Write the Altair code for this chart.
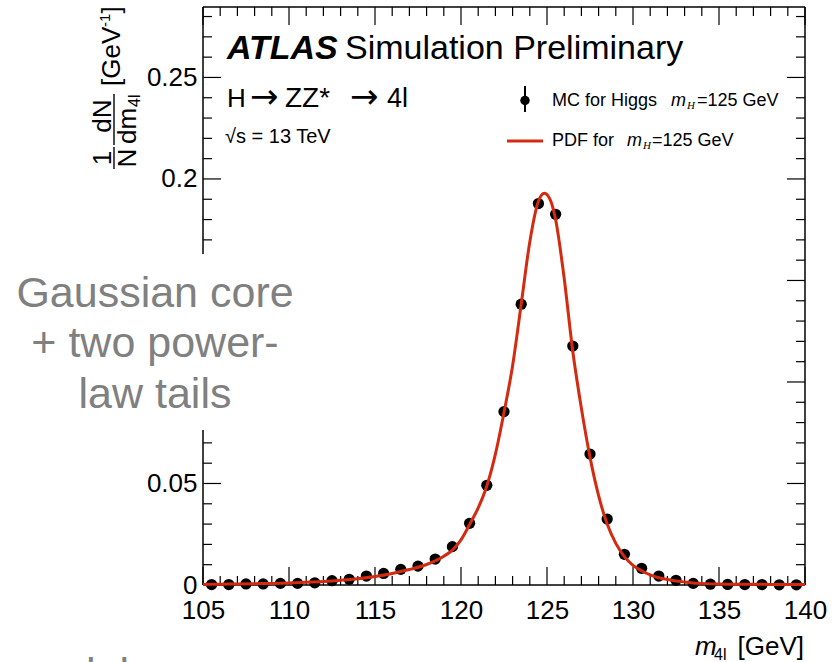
import altair as alt
import pandas as pd

# ---------------- data ----------------
mass_bin_centres = [105.5, 106.5, 107.5, 108.5, 109.5, 110.5, 111.5, 112.5, 113.5, 114.5,
                    115.5, 116.5, 117.5, 118.5, 119.5, 120.5, 121.5, 122.5, 123.5, 124.5,
                    125.5, 126.5, 127.5, 128.5, 129.5, 130.5, 131.5, 132.5, 133.5, 134.5,
                    135.5, 136.5, 137.5, 138.5, 139.5]
mc_density = [0.0002, 0.0002, 0.0005, 0.0005, 0.0008, 0.0008, 0.0011, 0.0021, 0.0028, 0.0044,
              0.0057, 0.0077, 0.0093, 0.0128, 0.0189, 0.0304, 0.0491, 0.0854, 0.1383, 0.1879,
              0.1826, 0.1177, 0.0645, 0.0325, 0.0151, 0.0082, 0.0044, 0.0023, 0.0008, 0.0004,
              0.0003, 0.0002, 0.0002, 0.0001, 0.0001]

pdf_mass = [105.0, 106.0, 107.0, 108.0, 109.0, 110.0, 111.0, 112.0, 113.0, 114.0,
            115.0, 116.0, 117.0, 118.0, 118.5, 119.0, 119.5, 120.0, 120.5, 121.0,
            121.5, 122.0, 122.5, 123.0, 123.5, 124.0, 124.5, 124.85, 125.2, 125.5,
            126.0, 126.5, 127.0, 127.5, 128.0, 128.5, 129.0, 129.5, 130.0, 130.5,
            131.0, 131.5, 132.0, 132.5, 133.0, 133.5, 134.0, 135.0, 136.0, 138.0, 140.0]
pdf_density = [0.0003, 0.0004, 0.0005, 0.0006, 0.0008, 0.0010, 0.0013, 0.0017, 0.0023, 0.0031,
               0.0042, 0.0057, 0.0076, 0.0101, 0.0119, 0.0142, 0.0172, 0.0222, 0.0298, 0.0380,
               0.0488, 0.0645, 0.0850, 0.1080, 0.1383, 0.1690, 0.1890, 0.1930, 0.1895, 0.1800,
               0.1510, 0.1150, 0.0870, 0.0630, 0.0440, 0.0300, 0.0205, 0.0140, 0.0097, 0.0070,
               0.0050, 0.0036, 0.0027, 0.0020, 0.0015, 0.0010, 0.0008, 0.0005, 0.0004, 0.0003,
               0.0002]

x_tick_labels = [105, 110, 115, 120, 125, 130, 135, 140]
x_minor_ticks = [v for v in range(106, 140) if v % 5 != 0]
y_major_ticks = [0.0, 0.05, 0.10, 0.15, 0.20, 0.25]
y_tick_labels = [0.0, 0.05, 0.20, 0.25]
y_minor_ticks = [i / 100 for i in range(1, 29) if i % 5 != 0]

# ---------------- layout / style ----------------
W, H = 602, 578
FONT = "Liberation Sans"
RED = "#d42a10"
GRAY = "#808080"

xs = alt.Scale(domain=[105, 140], nice=False, zero=False)
ys = alt.Scale(domain=[0, 0.2847], nice=False, zero=False)
x_axis = alt.Axis(values=x_tick_labels, ticks=False, domain=False, grid=False,
                  labelFont=FONT, labelFontSize=26, labelColor="black",
                  labelPadding=12, labelFlush=False, labelOverlap=False, title=None)
y_axis = alt.Axis(values=y_tick_labels, format=".2~f", ticks=False, domain=False, grid=False,
                  labelFont=FONT, labelFontSize=26, labelColor="black",
                  labelPadding=6, labelFlush=False, labelOverlap=False, title=None)
X = alt.X("m:Q", scale=xs, axis=x_axis, title=None)
Y = alt.Y("v:Q", scale=ys, axis=y_axis, title=None)

one = pd.DataFrame({"k": [0]})
layers = []

# frame
for enc in [dict(x=alt.value(0), x2=alt.value(W), y=alt.value(0)),
            dict(x=alt.value(0), x2=alt.value(W), y=alt.value(H)),
            dict(y=alt.value(0), y2=alt.value(H), x=alt.value(0)),
            dict(y=alt.value(0), y2=alt.value(H), x=alt.value(W))]:
    layers.append(alt.Chart(one).mark_rule(color="black", strokeWidth=1.5).encode(**enc))

# inward ticks on all four sides
def xticks(vals, L):
    d = pd.DataFrame({"m": vals})
    return [alt.Chart(d).mark_rule(color="black", strokeWidth=1.2).encode(
                x=X, y=alt.value(H), y2=alt.value(H - L)),
            alt.Chart(d).mark_rule(color="black", strokeWidth=1.2).encode(
                x=X, y=alt.value(0), y2=alt.value(L))]

def yticks(vals, L):
    d = pd.DataFrame({"v": vals})
    return [alt.Chart(d).mark_rule(color="black", strokeWidth=1.2).encode(
                y=Y, x=alt.value(0), x2=alt.value(L)),
            alt.Chart(d).mark_rule(color="black", strokeWidth=1.2).encode(
                y=Y, x=alt.value(W), x2=alt.value(W - L))]

layers += xticks(x_tick_labels, 18) + xticks(x_minor_ticks, 9)
layers += yticks(y_major_ticks, 18) + yticks(y_minor_ticks, 9)

# MC points
mc = pd.DataFrame({"m": mass_bin_centres, "v": mc_density})
layers.append(alt.Chart(mc).mark_circle(size=127, color="black", opacity=1).encode(x=X, y=Y))

# PDF line
pdf = pd.DataFrame({"m": pdf_mass, "v": pdf_density})
layers.append(alt.Chart(pdf).mark_line(color=RED, strokeWidth=3, interpolate="monotone").encode(x=X, y=Y))

# white box hiding part of the y axis
layers.append(alt.Chart(one).mark_rect(color="white", opacity=1).encode(
    x=alt.value(-203), x2=alt.value(97), y=alt.value(247), y2=alt.value(423)))


def txt(t, x, y, size, align="left", baseline="alphabetic", color="black",
        font=FONT, style="normal", weight="normal", angle=0):
    return alt.Chart(one).mark_text(
        text=t, align=align, baseline=baseline, color=color, font=font,
        fontSize=size, fontStyle=style, fontWeight=weight, angle=angle
    ).encode(x=alt.value(x), y=alt.value(y))


# header texts
layers.append(txt("ATLAS", 24, 52, 34, style="italic", weight="bold"))
layers.append(txt("Simulation Preliminary", 142, 52, 34))
layers.append(txt("H", 24, 99.7, 26))
layers.append(txt("\u2192", 47, 100.5, 34, font="DejaVu Sans"))
layers.append(txt("ZZ*", 82, 99.7, 28))
layers.append(txt("\u2192", 147, 100.5, 34, font="DejaVu Sans"))
layers.append(txt("4l", 184, 99.7, 27))
layers.append(txt("\u221As = 13 TeV", 22, 136, 20))

# legend
layers.append(alt.Chart(one).mark_rule(color="black", strokeWidth=2).encode(
    x=alt.value(322), y=alt.value(79), y2=alt.value(105)))
layers.append(alt.Chart(one).mark_circle(size=90, color="black", opacity=1).encode(
    x=alt.value(322), y=alt.value(93.5)))
layers.append(txt("MC for Higgs", 349, 99, 18))
layers.append(txt("m", 468, 99, 18, style="italic"))
layers.append(txt("H", 484, 102, 11, style="italic", font="Liberation Serif"))
layers.append(txt("=125 GeV", 494, 99, 18))

layers.append(alt.Chart(one).mark_rule(color=RED, strokeWidth=3).encode(
    x=alt.value(304), x2=alt.value(340), y=alt.value(134)))
layers.append(txt("PDF for", 349, 138.7, 18))
layers.append(txt("m", 424, 138.7, 18, style="italic"))
layers.append(txt("H", 440, 142, 11, style="italic", font="Liberation Serif"))
layers.append(txt("=125 GeV", 449, 138.7, 18))

# x axis title
layers.append(txt("m", 492, 648, 26, style="italic"))
layers.append(txt("4l", 511, 653, 16))
layers.append(txt("[GeV]", 601, 648, 26, align="right"))

# y axis title (rotated)
layers.append(txt("[GeV", -83, 79, 26, angle=270))
layers.append(txt("-1", -93, 20, 15, angle=270))
layers.append(txt("]", -83, 6.5, 26, angle=270))
layers.append(txt("1", -92, 151, 26, align="center", angle=270))
layers.append(txt("N", -67, 151, 26, align="center", angle=270))
layers.append(alt.Chart(one).mark_rule(color="black", strokeWidth=1.4).encode(
    x=alt.value(-89), y=alt.value(140), y2=alt.value(162)))
layers.append(txt("dN", -92, 109, 26, align="center", angle=270))
layers.append(txt("dm", -67, 119, 26, align="center", angle=270))
layers.append(txt("4l", -63, 100, 16, angle=270))
layers.append(alt.Chart(one).mark_rule(color="black", strokeWidth=1.4).encode(
    x=alt.value(-89), y=alt.value(87), y2=alt.value(138)))

# grey overlay annotation
layers.append(txt("Gaussian core", -48, 299.7, 43, align="center", color=GRAY))
layers.append(txt("+ two power-", -48, 349.7, 43, align="center", color=GRAY))
layers.append(txt("law tails", -48, 401, 43, align="center", color=GRAY))
layers.append(txt("model", -191, 681, 43, color=GRAY))

chart = alt.layer(*layers).properties(
    width=W, height=H,
    autosize=alt.AutoSizeParams(type="none"),
    padding={"left": 203, "top": 7, "right": 28, "bottom": 77},
    background="white",
).configure_view(stroke=None)

chart.save("out.html", embed_options={"renderer": "svg", "actions": False})
